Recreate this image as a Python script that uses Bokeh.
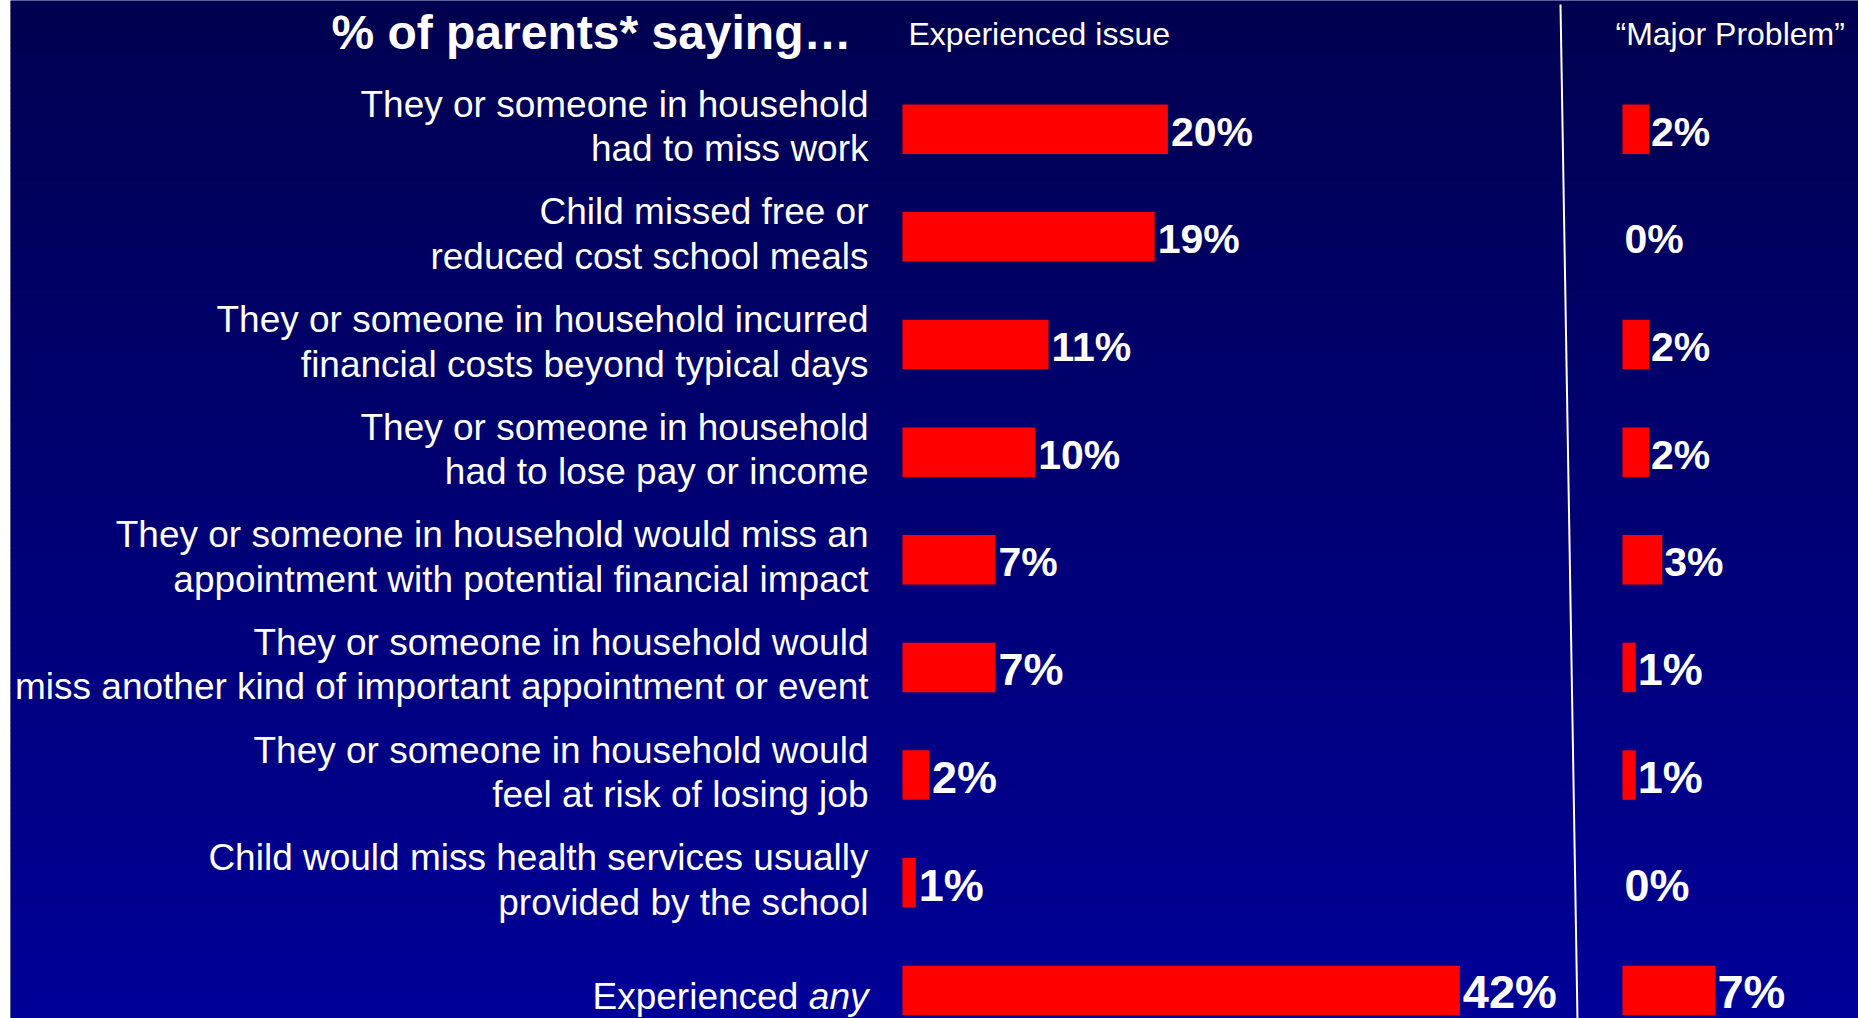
from bokeh.plotting import figure
from bokeh.models import Range1d, ColumnDataSource
from bokeh.core.properties import value
from bokeh.embed import file_html
from bokeh.resources import INLINE

# ---------------- data ----------------
categories = [
    "They or someone in household\nhad to miss work",
    "Child missed free or\nreduced cost school meals",
    "They or someone in household incurred\nfinancial costs beyond typical days",
    "They or someone in household\nhad to lose pay or income",
    "They or someone in household would miss an\nappointment with potential financial impact",
    "They or someone in household would\nmiss another kind of important appointment or event",
    "They or someone in household would\nfeel at risk of losing job",
    "Child would miss health services usually\nprovided by the school",
    "Experienced any",
]
experienced = [20, 19, 11, 10, 7, 7, 2, 1, 42]
major = [2, 0, 2, 2, 3, 1, 1, 0, 7]
title_text = "% of parents* saying\u2026"
header_left = "Experienced issue"
header_right = "\u201cMajor Problem\u201d"

# ---------------- layout (page pixels) ----------------
W, H = 1858, 1018
BORDER_L = 10          # white strip on the left
S = 13.27              # px per percentage point
LEFT_ZERO = 902        # page x of 0% (left panel)
RIGHT_ZERO = 1622      # page x of 0% (right panel)
ROW0 = 128.7           # page y of first row centre
ROWH = 107.65          # px between rows


def lx(px):
    return (px - LEFT_ZERO) / S


def rx(px):
    return (px - RIGHT_ZERO) / S


def ly(py):
    return (py - ROW0) / ROWH


p = figure(width=W, height=H, output_backend="svg", toolbar_location=None,
           x_range=Range1d(lx(BORDER_L), lx(W)),
           y_range=Range1d(ly(H), ly(0)),
           min_border=0, min_border_left=BORDER_L, min_border_right=0,
           min_border_top=0, min_border_bottom=0)
p.extra_x_ranges = {"mp": Range1d(rx(BORDER_L), rx(W))}
p.axis.visible = False
p.grid.visible = False
p.outline_line_color = None
p.border_fill_color = "white"
p.background_fill_color = "#000050"

# ---------------- gradient background ----------------
top_c = (0, 0, 0x50)
bot_c = (0, 0, 0x98)
step = 5
tops, bots, cols = [], [], []
for k in range(0, H // step + 1):
    py0 = k * step
    py1 = py0 + step
    t = min(1.0, py0 / float(H))
    c = tuple(int(round(a + (b - a) * t)) for a, b in zip(top_c, bot_c))
    tops.append(ly(py0))
    bots.append(ly(py1 + 0.5))
    cols.append("#%02x%02x%02x" % c)
p.quad(left=p.x_range.start, right=p.x_range.end, top=tops, bottom=bots,
       fill_color=cols, line_color=None)

# ---------------- bars ----------------
rows = list(range(len(categories)))
BAR_H = 49.5 / ROWH
p.hbar(y=rows, left=0, right=experienced, height=BAR_H, fill_color="#FF0000", line_color=None)
p.hbar(y=rows, left=0, right=major, height=BAR_H, fill_color="#FF0000", line_color=None,
       x_range_name="mp")

# ---------------- value labels ----------------
sizes = [41, 41, 41, 41, 41, 45, 45, 45, 47]
n = len(rows)
lab_y = [r + (1.5 if r == n - 1 else 2.5) / ROWH for r in rows]
src_l = ColumnDataSource(dict(x=experienced, y=lab_y, t=["%d%%" % v for v in experienced],
                              fs=["%dpx" % s for s in sizes]))
src_r = ColumnDataSource(dict(x=major, y=lab_y, t=["%d%%" % v for v in major],
                              fs=["%dpx" % s for s in sizes]))
for src, rn, off in ((src_l, "default", 3), (src_r, "mp", 2)):
    p.text(x="x", y="y", text="t", source=src, x_range_name=rn, x_offset=off,
           text_font=value("Liberation Sans"), text_font_style="bold",
           text_font_size="fs", text_color="white",
           text_align="left", text_baseline="middle")

# ---------------- category labels ----------------
LAB_RIGHT = lx(868)
l1, l2, y1, y2 = [], [], [], []
for r, c in enumerate(categories[:-1]):
    a, b = c.split("\n")
    l1.append(a); l2.append(b)
    y1.append(r - 25 / ROWH); y2.append(r + 19.5 / ROWH)
p.text(x=LAB_RIGHT, y=y1 + y2, text=l1 + l2,
       text_font=value("Liberation Sans"), text_font_size="37px", text_color="white",
       text_align="right", text_baseline="middle")

last = categories[-1]
word, emph = last.rsplit(" ", 1)
ylast = rows[-1] + 6 / ROWH
p.text(x=LAB_RIGHT, y=ylast, text=[emph], text_font=value("Liberation Sans"),
       text_font_style="italic", text_font_size="37px", text_color="white",
       text_align="right", text_baseline="middle")
p.text(x=LAB_RIGHT, y=ylast, text=[word + " "], x_offset=-60,
       text_font=value("Liberation Sans"), text_font_size="37px", text_color="white",
       text_align="right", text_baseline="middle")

# ---------------- headers ----------------
p.text(x=lx(851), y=ly(32), text=[title_text], text_font=value("Liberation Sans"),
       text_font_style="bold", text_font_size="48px", text_color="white",
       text_align="right", text_baseline="middle")
p.text(x=lx(908), y=ly(33.5), text=[header_left], text_font=value("Liberation Sans"),
       text_font_size="32px", text_color="white", text_align="left", text_baseline="middle")
p.text(x=lx(1615), y=ly(33.5), text=[header_right], text_font=value("Liberation Sans"),
       text_font_size="32px", text_color="white", text_align="left", text_baseline="middle")

# ---------------- separator ----------------
p.segment(x0=[rx(1560)], y0=[ly(4)], x1=[rx(1577)], y1=[ly(1020)],
          x_range_name="mp", line_color="white", line_width=2)

open("out.html", "w").write(file_html(p, INLINE))
